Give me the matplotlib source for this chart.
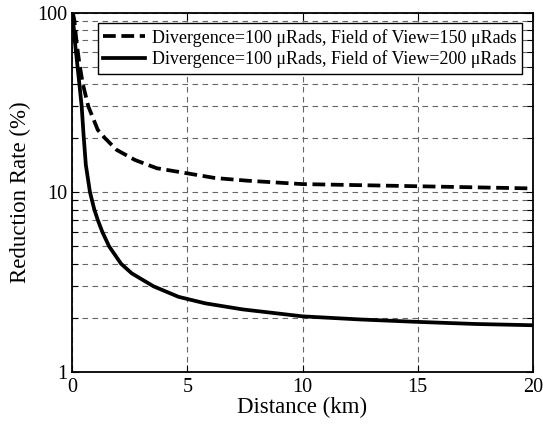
import matplotlib
matplotlib.use("Agg")
import matplotlib.pyplot as plt
from matplotlib.ticker import LogLocator, NullFormatter

plt.rcParams['font.family'] = ['Liberation Serif', 'DejaVu Serif']

# Data
dist_150 = [0.03, 0.1, 0.2, 0.32, 0.47, 0.71, 1.12, 1.43, 1.94, 2.74, 3.68, 4.91,
            6.21, 7.59, 10, 12.5, 15, 17.5, 20]
rate_150 = [100, 91, 68, 52, 40, 30, 22.2, 20, 17.2, 15.1, 13.6, 12.8,
            12.0, 11.6, 11.1, 10.95, 10.8, 10.65, 10.5]

dist_200 = [0.02, 0.13, 0.32, 0.42, 0.5, 0.6, 0.78, 0.97, 1.12, 1.32, 1.61, 2.13,
            2.59, 3.53, 4.62, 5.78, 7.4, 10, 12.5, 15, 17.5, 20]
rate_200 = [100, 68, 40, 30, 21, 14.2, 10, 8, 7, 6, 5, 4,
            3.54, 3, 2.62, 2.41, 2.23, 2.04, 1.96, 1.9, 1.85, 1.82]

labels = ["Divergence=100 \u03bcRads, Field of View=150 \u03bcRads",
          "Divergence=100 \u03bcRads, Field of View=200 \u03bcRads"]
x_ticks = [0, 5, 10, 15, 20]
y_ticks = [1, 10, 100]

fig = plt.figure(figsize=(5.43, 4.24), dpi=100)
ax = fig.add_axes([72/543, 52/424, (533-72)/543, (372-12.5)/424])

ax.plot(dist_150, rate_150, color='black', lw=2.7, ls=(0, (3.4, 1.5)), label=labels[0])
ax.plot(dist_200, rate_200, color='black', lw=2.7, ls='-', label=labels[1])

ax.set_yscale('log')
ax.set_xlim(0, 20)
ax.set_ylim(1, 100)
ax.set_xticks(x_ticks)
ax.set_xticklabels([str(t) for t in x_ticks])
ax.set_yticks(y_ticks)
ax.set_yticklabels([str(t) for t in y_ticks])
ax.yaxis.set_minor_locator(LogLocator(base=10, subs=range(2, 10)))
ax.yaxis.set_minor_formatter(NullFormatter())

ax.grid(True, which='major', axis='both', color='#666666', ls=(0, (5, 4)), lw=0.8)
ax.grid(True, which='minor', axis='y', color='#666666', ls=(0, (5, 4)), lw=0.8)

ax.tick_params(which='both', direction='in', top=True, right=True, labelsize=14.5, width=0.8)
ax.tick_params(which='major', length=5)
ax.tick_params(which='minor', length=4)
ax.tick_params(axis='x', pad=4)
for s in ax.spines.values():
    s.set_linewidth(1.3)

ax.set_xlabel("Distance (km)", fontsize=16.5, labelpad=0)
ax.set_ylabel("Reduction Rate (%)", fontsize=16.5, labelpad=4)

leg = ax.legend(loc='upper right', fontsize=13, frameon=True, fancybox=False,
                edgecolor='black', framealpha=1, handlelength=2.3, handletextpad=0.4,
                borderpad=0.3, labelspacing=0.2, borderaxespad=0.6)
leg.get_frame().set_linewidth(1.0)

fig.savefig("out.png", dpi=100)
